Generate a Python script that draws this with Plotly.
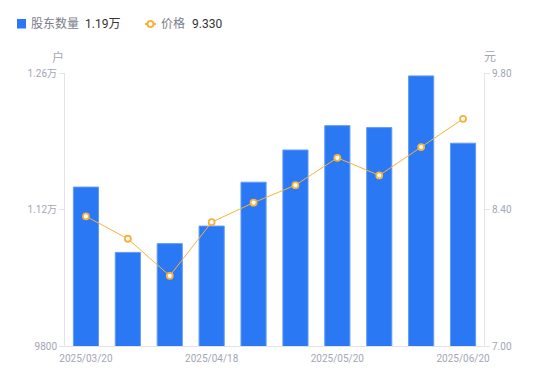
import plotly.graph_objects as go

dates = ["2025/03/20", "2025/03/31", "2025/04/10", "2025/04/18", "2025/04/30",
         "2025/05/09", "2025/05/20", "2025/05/30", "2025/06/10", "2025/06/20"]
holders = [11430, 10760, 10850, 11030, 11480, 11810, 12060, 12040, 12570, 11880]
prices = [8.33, 8.10, 7.72, 8.27, 8.47, 8.65, 8.93, 8.75, 9.04, 9.33]

left_ticks = [9800, 11200, 12600]
left_text = ["9800", "1.12万", "1.26万"]
right_ticks = [7.0, 8.4, 9.8]
right_text = ["7.00", "8.40", "9.80"]
x_ticks = [dates[0], dates[3], dates[6], dates[9]]

font = "Roboto, Noto Sans CJK SC, sans-serif"
grey = "#a3a6b4"
blue = "#2a78f4"
orange = "#f7b23b"

W, H = 550, 381
ML, MR, MT, MB = 57, 74, 65, 43
PW, PH = W - ML - MR, H - MT - MB


def px(fx):
    return (fx - ML) / PW


def py(fy):
    return (H - MB - fy) / PH


fig = go.Figure()
fig.add_trace(go.Bar(
    x=dates, y=holders, name="股东数量",
    marker=dict(color=blue, line=dict(color="#5f9bf7", width=1)),
    width=0.6, yaxis="y",
))
fig.add_trace(go.Scatter(
    x=dates, y=prices, name="价格",
    mode="lines+markers", yaxis="y2",
    line=dict(color=orange, width=1),
    marker=dict(color="white", size=6, line=dict(color=orange, width=1.8)),
))

leg_y = 16
shapes = [
    dict(type="rect", xref="paper", yref="paper",
         x0=px(9), x1=px(18), y0=py(leg_y - 5), y1=py(leg_y + 4.5),
         fillcolor=blue, line=dict(width=0)),
    dict(type="line", xref="paper", yref="paper",
         x0=px(137), x1=px(148), y0=py(leg_y), y1=py(leg_y),
         line=dict(color=orange, width=2)),
    dict(type="circle", xref="paper", yref="paper",
         x0=px(139.5), x1=px(145.5), y0=py(leg_y - 3), y1=py(leg_y + 3),
         fillcolor="white", line=dict(color=orange, width=2)),
]

def ann(text, fx, fy, color, size=12, anchor="left"):
    return dict(text=text, xref="paper", yref="paper", x=px(fx), y=py(fy),
                xanchor=anchor, yanchor="middle", showarrow=False,
                font=dict(size=size, color=color, family=font), borderpad=0)

annotations = [
    ann("股东数量", 22, leg_y, "#7a7d8a"),
    ann("1.19万", 76, leg_y, "#333333"),
    ann("价格", 152, leg_y, "#7a7d8a"),
    ann("9.330", 183, leg_y, "#333333"),
    ann("户", 50, 49, grey, 12, "center"),
    ann("元", 482, 49, grey, 12, "center"),
]

fig.update_layout(
    width=W, height=H,
    margin=dict(l=ML, r=MR, t=MT, b=MB),
    plot_bgcolor="white", paper_bgcolor="white",
    font=dict(family=font, size=11, color=grey),
    showlegend=False,
    xaxis=dict(type="category", tickvals=x_ticks, ticktext=x_ticks,
               showline=True, linecolor="#e3e4e8",
               ticks="outside", ticklen=3, tickcolor="rgba(0,0,0,0)",
               showgrid=False,
               tickfont=dict(size=10, color=grey), range=[-0.5, 9.5]),
    yaxis=dict(range=[9800, 12600], tickvals=left_ticks, ticktext=left_text,
               showline=True, linecolor="#e3e4e8", ticks="outside", ticklen=5,
               tickcolor="#e3e4e8", showgrid=False, zeroline=False,
               tickfont=dict(size=10, color=grey)),
    yaxis2=dict(range=[7.0, 9.8], tickvals=right_ticks, ticktext=right_text,
                overlaying="y", side="right",
                showline=True, linecolor="#e3e4e8", ticks="outside", ticklen=5,
                tickcolor="#e3e4e8", showgrid=False, zeroline=False,
                tickfont=dict(size=10, color=grey)),
    shapes=shapes,
    annotations=annotations,
)

fig.write_html("out.html")
